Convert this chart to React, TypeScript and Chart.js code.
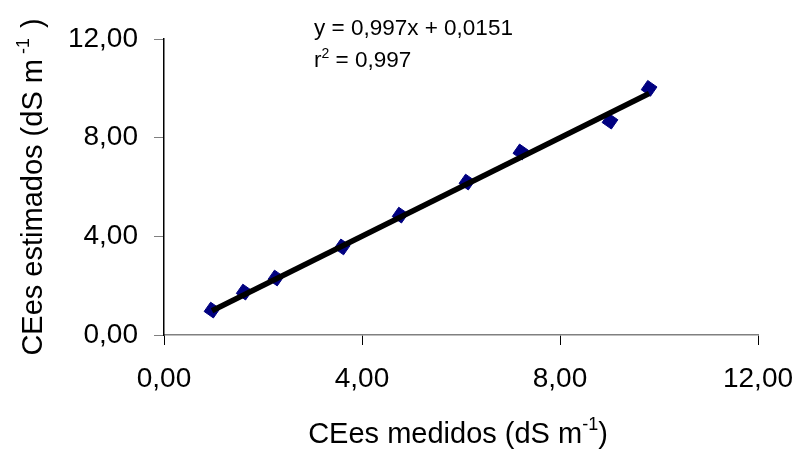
import React, { useEffect, useRef } from "react";
import { Chart, registerables } from "chart.js";

Chart.register(...registerables);

const measured = [0.97, 1.62, 2.26, 3.6, 4.77, 6.12, 7.21, 9.01, 9.8];
const estimated = [1.01, 1.74, 2.31, 3.57, 4.86, 6.2, 7.42, 8.67, 10.0];
const trendX = [0.97, 9.8];
const trendY = [0.98, 9.79];
const tickValues = [0, 4, 8, 12];
const equationText = "y = 0,997x + 0,0151";
const r2Text = " = 0,997";
const xTitle = "CEes medidos (dS m";
const yTitle = "CEes estimados (dS m";

const FONT = "'Liberation Sans', Arial, sans-serif";

const fmt = (v: number) => v.toFixed(2).replace(".", ",");

const textPlugin = {
  id: "customText",
  afterDraw(chart: any) {
    const ctx = chart.ctx as CanvasRenderingContext2D;
    const area = chart.chartArea;
    ctx.save();
    ctx.fillStyle = "#000";
    ctx.textBaseline = "alphabetic";
    ctx.textAlign = "left";
    // equation
    ctx.font = `22.5px ${FONT}`;
    ctx.fillText(equationText, 314, 35);
    ctx.fillText("r", 314, 67);
    const rw = ctx.measureText("r").width;
    ctx.font = `14px ${FONT}`;
    ctx.fillText("2", 314 + rw, 58);
    const w2 = ctx.measureText("2").width;
    ctx.font = `22.5px ${FONT}`;
    ctx.fillText(r2Text, 314 + rw + w2, 67);

    // x title
    const cx = (area.left + area.right) / 2 - 3;
    ctx.font = `29px ${FONT}`;
    const mainW = ctx.measureText(xTitle).width;
    const closeW = ctx.measureText(")").width;
    ctx.font = `18px ${FONT}`;
    const supW = ctx.measureText("-1").width;
    const total = mainW + supW + closeW;
    const sx = cx - total / 2;
    const by = 443;
    ctx.font = `29px ${FONT}`;
    ctx.fillText(xTitle, sx, by);
    ctx.font = `18px ${FONT}`;
    ctx.fillText("-1", sx + mainW, by - 13);
    ctx.font = `29px ${FONT}`;
    ctx.fillText(")", sx + mainW + supW, by);

    // y title
    ctx.translate(42, 187);
    ctx.rotate(-Math.PI / 2);
    ctx.font = `29px ${FONT}`;
    const ymw = ctx.measureText(yTitle).width;
    const yclose = ctx.measureText(")").width;
    ctx.font = `18px ${FONT}`;
    const ysw = ctx.measureText(" -1  ").width;
    const yt = ymw + ysw + yclose;
    const ys = -yt / 2;
    ctx.font = `29px ${FONT}`;
    ctx.fillText(yTitle, ys, 0);
    ctx.font = `18px ${FONT}`;
    ctx.fillText(" -1  ", ys + ymw, -13);
    ctx.font = `29px ${FONT}`;
    ctx.fillText(")", ys + ymw + ysw, 0);
    ctx.restore();
  },
};

export default function App() {
  const ref = useRef<HTMLCanvasElement>(null);
  useEffect(() => {
    document.body.style.margin = "0";
    const canvas = ref.current!;
    const chart = new Chart(canvas, {
      type: "scatter",
      data: {
        datasets: [
          {
            type: "line",
            data: trendX.map((x, i) => ({ x, y: trendY[i] })),
            borderColor: "#000",
            borderWidth: 5.5,
            pointRadius: 0,
            fill: false,
            borderCapStyle: "butt",
          } as any,
          {
            type: "scatter",
            data: measured.map((x, i) => ({ x, y: estimated[i] })),
            pointStyle: "rect",
            rotation: 35,
            radius: 8,
            backgroundColor: "#000080",
            borderColor: "#000080",
            borderWidth: 1,
          } as any,
        ],
      },
      options: {
        animation: false,
        responsive: false,
        maintainAspectRatio: false,
        layout: { padding: { top: 39, right: 40, left: 0, bottom: 0 } },
        plugins: { legend: { display: false }, tooltip: { enabled: false } },
        scales: {
          x: {
            type: "linear",
            min: 0,
            max: 12,
            afterBuildTicks: (s: any) => {
              s.ticks = tickValues.map((v) => ({ value: v }));
            },
            afterFit: (s: any) => {
              s.height = 119;
              s.paddingLeft = 0;
              s.paddingRight = 0;
            },
            border: { color: "#808080", width: 1.5 },
            grid: { drawOnChartArea: false, tickLength: 10, color: "#000", lineWidth: 1 },
            ticks: {
              callback: (v: any) => fmt(Number(v)),
              font: { family: FONT, size: 28 },
              color: "#000",
              padding: 17,
              maxRotation: 0,
            },
          },
          y: {
            type: "linear",
            min: 0,
            max: 12,
            afterBuildTicks: (s: any) => {
              s.ticks = tickValues.map((v) => ({ value: v }));
            },
            afterFit: (s: any) => {
              s.width = 164;
              s.paddingTop = 0;
              s.paddingBottom = 0;
            },
            border: { color: "#000", width: 1.5 },
            grid: { drawOnChartArea: false, tickLength: 10, color: "#808080", lineWidth: 1 },
            ticks: {
              callback: (v: any) => fmt(Number(v)),
              font: { family: FONT, size: 28 },
              color: "#000",
              padding: 16,
            },
          },
        },
      },
      plugins: [textPlugin],
    });
    return () => chart.destroy();
  }, []);
  return (
    <div style={{ width: 798, height: 454 }}>
      <canvas ref={ref} width={798} height={454} style={{ width: 798, height: 454, display: "block" }} />
    </div>
  );
}
